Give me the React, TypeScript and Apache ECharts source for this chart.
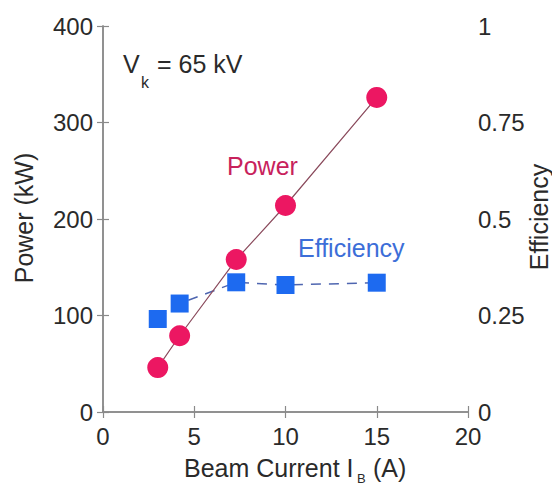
import React, { useEffect, useRef } from "react";
import * as echarts from "echarts";

const current = [3, 4.2, 7.3, 10, 15];
const power = [46, 79, 158, 214, 326];
const efficiency = [0.241, 0.281, 0.336, 0.329, 0.335];
const xTicks = { min: 0, max: 20, interval: 5 };
const powerTicks = { min: 0, max: 400, interval: 100 };
const effTicks = { min: 0, max: 1, interval: 0.25 };

const FONT = "Liberation Sans, Arial, sans-serif";
const AX = "#8a8a8a";
const TXT = "#2a2a2a";

export default function App() {
  const ref = useRef<HTMLDivElement>(null);
  useEffect(() => {
    if (!ref.current) return;
    const chart = echarts.init(ref.current, undefined, { renderer: "svg" });
    const axisCommon = {
      axisLine: { show: true, lineStyle: { color: AX, width: 1.5 } },
      axisTick: { show: true, inside: true, length: 6, lineStyle: { color: AX, width: 1.2 } },
      splitLine: { show: false },
      axisLabel: { color: TXT, fontSize: 24, fontFamily: FONT },
    };
    chart.setOption({
      animation: false,
      backgroundColor: "#ffffff",
      grid: { left: 103, right: 84, top: 26, bottom: 73 },
      xAxis: [
        { type: "value", position: "bottom", ...xTicks, ...axisCommon, axisLabel: { ...axisCommon.axisLabel, margin: 12 } },
        { type: "value", position: "top", ...xTicks, ...axisCommon, axisLabel: { show: false } },
      ],
      yAxis: [
        { type: "value", position: "left", ...powerTicks, ...axisCommon, axisLabel: { ...axisCommon.axisLabel, margin: 10 } },
        { type: "value", position: "right", ...effTicks, ...axisCommon, axisLabel: { ...axisCommon.axisLabel, margin: 10 } },
      ],
      series: [
        {
          type: "line",
          name: "Power",
          xAxisIndex: 0,
          yAxisIndex: 0,
          data: current.map((c, i) => [c, power[i]]),
          symbol: "circle",
          symbolSize: 21,
          itemStyle: { color: "#ec1762" },
          lineStyle: { color: "#8a4a5c", width: 1.2 },
          z: 3,
        },
        {
          type: "line",
          name: "Efficiency",
          xAxisIndex: 0,
          yAxisIndex: 1,
          data: current.map((c, i) => [c, efficiency[i]]),
          symbol: "rect",
          symbolSize: 18,
          itemStyle: { color: "#1d6af0" },
          lineStyle: { color: "#4f66b0", width: 1.5, type: [10, 8] },
          z: 2,
        },
      ],
      graphic: [
        { type: "text", x: 123, y: 76, style: { text: "V", font: `25px ${FONT}`, fill: TXT, textAlign: "left", textVerticalAlign: "bottom" } },
        { type: "text", x: 141, y: 90, style: { text: "k", font: `16px ${FONT}`, fill: TXT, textAlign: "left", textVerticalAlign: "bottom" } },
        { type: "text", x: 157, y: 76, style: { text: "= 65 kV", font: `25px ${FONT}`, fill: TXT, textAlign: "left", textVerticalAlign: "bottom" } },
        { type: "text", x: 227, y: 166, style: { text: "Power", font: `25px ${FONT}`, fill: "#c8225c", textAlign: "left", textVerticalAlign: "middle" } },
        { type: "text", x: 298, y: 248, style: { text: "Efficiency", font: `25px ${FONT}`, fill: "#3c6ed8", textAlign: "left", textVerticalAlign: "middle" } },
        { type: "text", x: 24, y: 218, rotation: Math.PI / 2, style: { text: "Power (kW)", font: `25px ${FONT}`, fill: TXT, textAlign: "center", textVerticalAlign: "middle" } },
        { type: "text", x: 539, y: 217, rotation: Math.PI / 2, style: { text: "Efficiency", font: `25px ${FONT}`, fill: TXT, textAlign: "center", textVerticalAlign: "middle" } },
        { type: "text", x: 184, y: 480, style: { text: "Beam Current I", font: `25px ${FONT}`, fill: TXT, textAlign: "left", textVerticalAlign: "bottom" } },
        { type: "text", x: 357, y: 485, style: { text: "B", font: `13px ${FONT}`, fill: TXT, textAlign: "left", textVerticalAlign: "bottom" } },
        { type: "text", x: 373, y: 480, style: { text: "(A)", font: `25px ${FONT}`, fill: TXT, textAlign: "left", textVerticalAlign: "bottom" } },
      ],
    });
    return () => chart.dispose();
  }, []);
  return (
    <div
      ref={ref}
      style={{ position: "fixed", left: 0, top: 0, width: 552, height: 485, background: "#fff" }}
    />
  );
}
